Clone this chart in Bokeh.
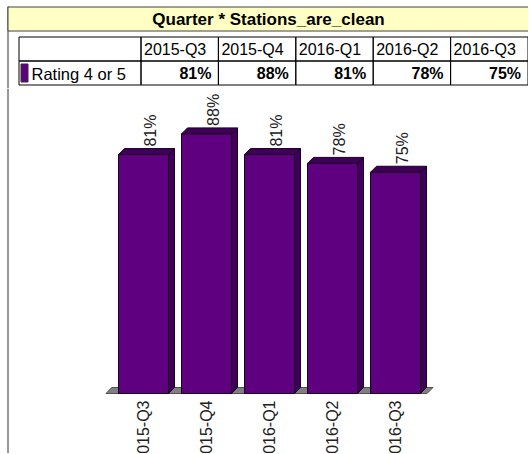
import math
from bokeh.plotting import figure
from bokeh.models import Range1d, Span
from bokeh.layouts import column
from bokeh.embed import file_html
from bokeh.resources import INLINE
from bokeh.core.properties import value

# ---------------- data ----------------
title_text = "Quarter * Stations_are_clean"
series_name = "Rating 4 or 5"
quarters = ["2015-Q3", "2015-Q4", "2016-Q1", "2016-Q2", "2016-Q3"]
rating_pct = [81, 88, 81, 78, 75]

# ---------------- style / layout ----------------
FONT = value("Liberation Sans")
W = 528
HEAD_H = 88
CHART_H = 365
FRONT = "#5E0080"
DARK = "#3E0058"
EDGE = "#1a001f"

# ================= header (title + table) =================
h = figure(width=W, height=HEAD_H, x_range=Range1d(0, W), y_range=Range1d(HEAD_H, 0),
           output_backend="svg", toolbar_location=None, min_border=0,
           x_axis_location=None, y_axis_location=None)
h.grid.visible = False
h.outline_line_color = None
h.background_fill_color = "white"
h.border_fill_color = "white"

# outer frame left line
h.segment(x0=[7.5], y0=[6], x1=[7.5], y1=[HEAD_H], line_color="#303030", line_width=1)
# title bar
h.quad(left=[7.5], right=[W + 2], top=[6.5], bottom=[30.5], fill_color="#FFFFC4",
       line_color="#404040", line_width=1)
h.text(x=[268], y=[19], text=[title_text], text_align="center", text_baseline="middle",
       text_font=FONT, text_font_style="bold", text_font_size="17px", text_color="#000000")

# table geometry
tx0 = 18.5
first_w = 122
col_w = 77.4
row_top, row_mid, row_bot = 36.5, 60.5, 84.5
n = len(quarters)
lefts = [tx0] + [tx0 + first_w + i * col_w for i in range(n)]
rights = [tx0 + first_w] + [tx0 + first_w + (i + 1) * col_w for i in range(n)]
h.quad(left=lefts * 2, right=rights * 2,
       top=[row_top] * (n + 1) + [row_mid] * (n + 1),
       bottom=[row_mid] * (n + 1) + [row_bot] * (n + 1),
       fill_color=None, line_color="#000000", line_width=1)

# header labels
h.text(x=[l + 3 for l in lefts[1:]], y=[49] * n, text=quarters, text_align="left",
       text_baseline="middle", text_font=FONT, text_font_size="16px", text_color="#000000")
# values row
h.text(x=[r - 7 for r in rights[1:]], y=[73] * n, text=[f"{v}%" for v in rating_pct],
       text_align="right", text_baseline="middle", text_font=FONT, text_font_style="bold",
       text_font_size="16px", text_color="#000000")
# series swatch + name
h.quad(left=[20.5], right=[27.5], top=[63.5], bottom=[81.5], fill_color=FRONT,
       line_color="#303030", line_width=1)
h.text(x=[31], y=[73], text=[series_name], text_align="left", text_baseline="middle",
       text_font=FONT, text_font_size="16.5px", text_color="#000000")

# ================= bar chart =================
PX_PER_PCT = 2.95
PX_PER_CAT = 63.0
first_center_px = 143.0   # center of first category in figure pixels
zero_from_bottom_px = 60.0

xs = 0.5 - first_center_px / PX_PER_CAT
xe = xs + W / PX_PER_CAT
ys = -zero_from_bottom_px / PX_PER_PCT
ye = ys + CHART_H / PX_PER_PCT

p = figure(width=W, height=CHART_H, x_range=Range1d(xs, xe), y_range=Range1d(ys, ye),
           output_backend="svg", toolbar_location=None, min_border=0,
           x_axis_location=None, y_axis_location=None)
p.grid.visible = False
p.outline_line_color = None
p.background_fill_color = "white"
p.border_fill_color = "white"

p.add_layout(Span(location=xs + 7.5 / PX_PER_CAT, dimension="height",
                  line_color="#303030", line_width=1))

bw = 50 / PX_PER_CAT          # bar width in category units
dx = 6 / PX_PER_CAT           # depth offset x
dy = 6 / PX_PER_PCT           # depth offset y
centers = [i + 0.5 for i in range(n)]

# floor
p.patch(x=[-0.1 / PX_PER_CAT * 60, n, n + dx, dx - 0.1], y=[0, 0, dy, dy], fill_color="#808080",
        line_color="#505050", line_width=1)

# side faces
p.patches(xs=[[c + bw / 2, c + bw / 2 + dx, c + bw / 2 + dx, c + bw / 2] for c in centers],
          ys=[[0, dy, v + dy, v] for v in rating_pct],
          fill_color=DARK, line_color=EDGE, line_width=1)
# top faces
p.patches(xs=[[c - bw / 2, c + bw / 2, c + bw / 2 + dx, c - bw / 2 + dx] for c in centers],
          ys=[[v, v, v + dy, v + dy] for v in rating_pct],
          fill_color=DARK, line_color=EDGE, line_width=1)
# front faces
p.vbar(x=centers, top=rating_pct, bottom=0, width=bw, fill_color=FRONT,
       line_color=EDGE, line_width=1)

# value labels (rotated)
p.text(x=[c + dx + 1 / PX_PER_CAT for c in centers], y=[v + dy + 2 / PX_PER_PCT for v in rating_pct],
       text=[f"{v}%" for v in rating_pct], angle=math.pi / 2, text_align="left",
       text_baseline="middle", text_font=FONT, text_font_size="16px", text_color="#202020")

# category labels (rotated, below floor)
p.text(x=centers, y=[-7 / PX_PER_PCT] * n, text=quarters, angle=math.pi / 2,
       text_align="right", text_baseline="middle", text_font=FONT,
       text_font_size="16px", text_color="#202020")

layout = column(h, p, spacing=0)
open("out.html", "w").write(file_html(layout, INLINE))
